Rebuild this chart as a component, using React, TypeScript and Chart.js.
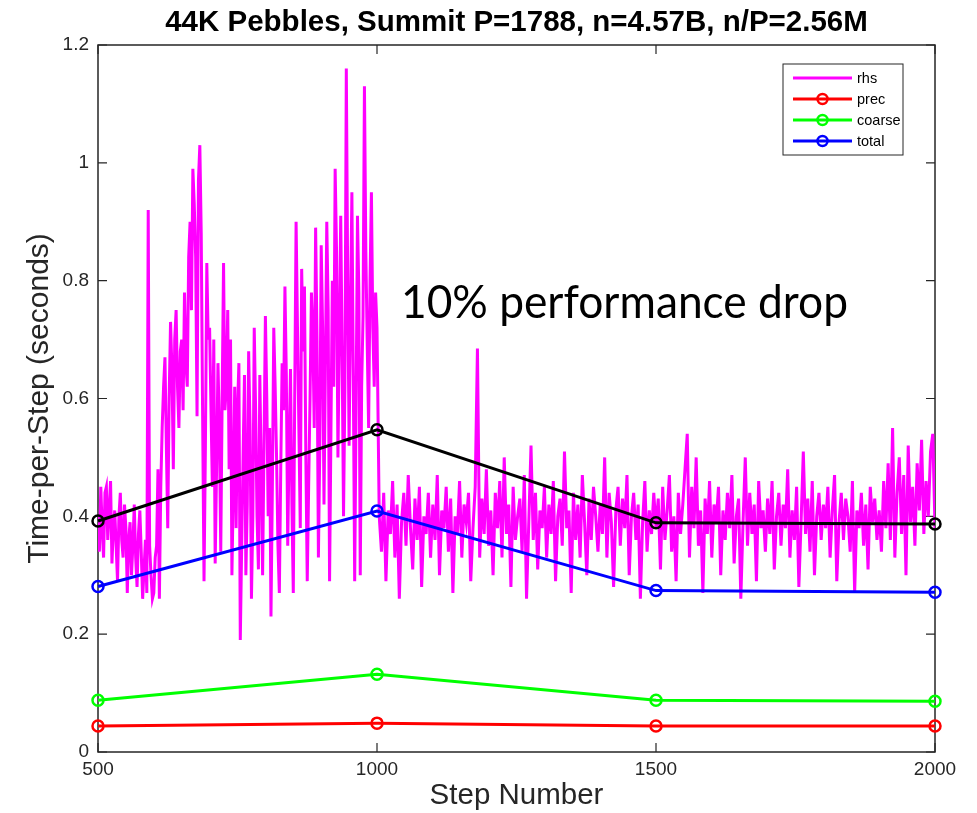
import { useEffect, useRef } from 'react';
import { Chart, registerables } from 'chart.js';

Chart.register(...registerables);

const TITLE = '44K Pebbles, Summit P=1788, n=4.57B, n/P=2.56M';
const X_LABEL = 'Step Number';
const Y_LABEL = 'Time-per-Step (seconds)';
const ANNOTATION = '10% performance drop';
const ANNOTATION_STEP = 1043;
const ANNOTATION_VALUE = 0.737;

const X_TICKS = [500, 1000, 1500, 2000];
const Y_TICKS = [0, 0.2, 0.4, 0.6, 0.8, 1, 1.2];

const SUMMARY_STEPS = [500, 1000, 1500, 2000];
const PREC = [0.044, 0.049, 0.044, 0.044];
const COARSE = [0.088, 0.132, 0.088, 0.086];
const TOTAL = [0.281, 0.409, 0.274, 0.271];
const TOTAL_PLUS_RHS = [0.392, 0.547, 0.389, 0.387];

// rhs, steps 500..997.5 every 2.5 steps
const RHS_EARLY_FIRST = 500;
const RHS_EARLY_STEP = 2.5;
const RHS_EARLY = [
  0.40, 0.34, 0.45, 0.38, 0.33, 0.44, 0.45, 0.36, 0.41, 0.46, 0.32, 0.38, 0.41, 0.35, 0.29, 0.40, 0.44, 0.36, 0.33, 0.42,
  0.38, 0.27, 0.36, 0.39, 0.30, 0.35, 0.42, 0.33, 0.28, 0.37, 0.41, 0.34, 0.26, 0.31, 0.36, 0.27, 0.92, 0.35, 0.30, 0.26,
  0.27, 0.33, 0.35, 0.48, 0.26, 0.45, 0.55, 0.62, 0.67, 0.52, 0.38, 0.60, 0.73, 0.65, 0.48, 0.70, 0.75, 0.62, 0.55, 0.68,
  0.70, 0.58, 0.78, 0.66, 0.62, 0.84, 0.90, 0.75, 0.99, 0.93, 0.84, 0.57, 0.97, 1.03, 0.88, 0.57, 0.29, 0.52, 0.83, 0.70,
  0.72, 0.58, 0.45, 0.70, 0.32, 0.48, 0.66, 0.55, 0.34, 0.60, 0.83, 0.58, 0.62, 0.75, 0.48, 0.70, 0.30, 0.45, 0.62, 0.38,
  0.58, 0.66, 0.19, 0.35, 0.50, 0.64, 0.30, 0.42, 0.68, 0.55, 0.26, 0.40, 0.72, 0.58, 0.40, 0.31, 0.64, 0.48, 0.30, 0.52,
  0.74, 0.60, 0.40, 0.55, 0.23, 0.45, 0.72, 0.62, 0.50, 0.35, 0.27, 0.48, 0.66, 0.58, 0.79, 0.64, 0.35, 0.52, 0.65, 0.42,
  0.27, 0.60, 0.90, 0.72, 0.55, 0.38, 0.82, 0.68, 0.79, 0.50, 0.29, 0.45, 0.60, 0.78, 0.71, 0.55, 0.89, 0.70, 0.33, 0.52,
  0.86, 0.72, 0.42, 0.65, 0.90, 0.75, 0.29, 0.55, 0.80, 0.62, 0.99, 0.85, 0.50, 0.70, 0.91, 0.68, 0.40, 0.62, 1.16, 0.80,
  0.52, 0.75, 0.95, 0.64, 0.29, 0.58, 0.91, 0.78, 0.30, 0.62, 0.74, 1.13, 0.85, 0.69, 0.55, 0.80, 0.95, 0.72, 0.62, 0.78,
];

// rhs, steps 1000..2000 every 4 steps
const RHS_LATE_FIRST = 1000;
const RHS_LATE_STEP = 4;
const RHS_LATE = [
  0.72, 0.40, 0.34, 0.44, 0.29, 0.41, 0.37, 0.46, 0.33, 0.42, 0.26, 0.39, 0.44, 0.35, 0.47, 0.38, 0.31, 0.43, 0.36, 0.45, 0.28, 0.40, 0.37, 0.44, 0.33,
  0.42, 0.36, 0.47, 0.30, 0.41, 0.38, 0.45, 0.34, 0.43, 0.27, 0.40, 0.37, 0.46, 0.33, 0.42, 0.39, 0.44, 0.29, 0.38, 0.45, 0.685, 0.33, 0.43, 0.37, 0.48,
  0.35, 0.41, 0.30, 0.44, 0.38, 0.46, 0.33, 0.50, 0.37, 0.42, 0.28, 0.45, 0.36, 0.40, 0.43, 0.34, 0.47, 0.26, 0.39, 0.52, 0.36, 0.44, 0.31, 0.41, 0.38,
  0.45, 0.33, 0.42, 0.37, 0.46, 0.29, 0.40, 0.43, 0.35, 0.51, 0.38, 0.41, 0.27, 0.44, 0.36, 0.42, 0.33, 0.47, 0.39, 0.30, 0.43, 0.36, 0.45, 0.40, 0.34,
  0.42, 0.37, 0.50, 0.33, 0.44, 0.39, 0.28, 0.41, 0.45, 0.35, 0.43, 0.38, 0.47, 0.30, 0.40, 0.44, 0.36, 0.42, 0.26, 0.39, 0.46, 0.34, 0.41, 0.37, 0.44,
  0.38, 0.43, 0.31, 0.45, 0.36, 0.41, 0.47, 0.34, 0.40, 0.29, 0.44, 0.37, 0.42, 0.48, 0.54, 0.33, 0.45, 0.38, 0.50, 0.35, 0.41, 0.27, 0.43, 0.37, 0.46,
  0.33, 0.42, 0.39, 0.45, 0.30, 0.41, 0.36, 0.44, 0.38, 0.47, 0.32, 0.40, 0.43, 0.26, 0.39, 0.50, 0.35, 0.44, 0.37, 0.42, 0.29, 0.46, 0.38, 0.41, 0.34,
  0.43, 0.37, 0.46, 0.31, 0.40, 0.44, 0.35, 0.42, 0.38, 0.48, 0.33, 0.41, 0.36, 0.45, 0.28, 0.39, 0.51, 0.37, 0.43, 0.34, 0.46, 0.30, 0.40, 0.44, 0.36,
  0.42, 0.38, 0.45, 0.33, 0.41, 0.47, 0.29, 0.39, 0.44, 0.36, 0.43, 0.40, 0.34, 0.46, 0.27, 0.41, 0.38, 0.44, 0.35, 0.42, 0.31, 0.45, 0.39, 0.43, 0.36,
  0.41, 0.34, 0.46, 0.38, 0.49, 0.36, 0.55, 0.33, 0.44, 0.50, 0.37, 0.47, 0.30, 0.52, 0.39, 0.45, 0.35, 0.49, 0.41, 0.53, 0.37, 0.46, 0.40, 0.51, 0.54,
  0.38,
];

const FONT = "'Liberation Sans', Arial, Helvetica, sans-serif";
const AXIS_COLOR = '#262626';

const summaryPoints = (vals: number[]) => SUMMARY_STEPS.map((s, i) => ({ x: s, y: vals[i] }));
const rhsPoints = [
  ...RHS_EARLY.map((v, i) => ({ x: RHS_EARLY_FIRST + i * RHS_EARLY_STEP, y: v })),
  ...RHS_LATE.map((v, i) => ({ x: RHS_LATE_FIRST + i * RHS_LATE_STEP, y: v })),
];

const framePlugin = {
  id: 'frame',
  beforeDatasetsDraw(chart: any) {
    const { ctx, chartArea: ca, scales } = chart;
    const xs = scales.x;
    const ys = scales.y;
    ctx.save();
    ctx.strokeStyle = AXIS_COLOR;
    ctx.lineWidth = 1.5;
    ctx.strokeRect(ca.left, ca.top, ca.right - ca.left, ca.bottom - ca.top);
    ctx.lineWidth = 1.2;
    ctx.beginPath();
    xs.ticks.forEach((t: any) => {
      const p = xs.getPixelForValue(t.value);
      ctx.moveTo(p, ca.bottom);
      ctx.lineTo(p, ca.bottom - 9);
      ctx.moveTo(p, ca.top);
      ctx.lineTo(p, ca.top + 9);
    });
    ys.ticks.forEach((t: any) => {
      const p = ys.getPixelForValue(t.value);
      ctx.moveTo(ca.left, p);
      ctx.lineTo(ca.left + 9, p);
      ctx.moveTo(ca.right, p);
      ctx.lineTo(ca.right - 9, p);
    });
    ctx.stroke();
    ctx.restore();
  },
  afterDraw(chart: any) {
    const { ctx, chartArea: ca, scales } = chart;
    const xs = scales.x;
    const ys = scales.y;
    ctx.save();
    // title
    ctx.fillStyle = '#000';
    ctx.font = `bold 29.5px ${FONT}`;
    ctx.textAlign = 'center';
    ctx.textBaseline = 'alphabetic';
    ctx.fillText(TITLE, (ca.left + ca.right) / 2, 31);

    // annotation
    ctx.font = `46px Lato, 'Open Sans', sans-serif`;
    ctx.textAlign = 'left';
    const ax = xs.getPixelForValue(ANNOTATION_STEP);
    const ay = ys.getPixelForValue(ANNOTATION_VALUE);
    const natural = ctx.measureText(ANNOTATION).width;
    const sx = 447 / natural;
    ctx.save();
    ctx.translate(ax, ay);
    ctx.scale(sx, 1);
    ctx.fillText(ANNOTATION, 0, 0);
    ctx.restore();

    // legend
    const items = chart.data.datasets.filter((d: any) => d.inLegend);
    const bx = ca.right - 152;
    const by = ca.top + 19;
    const bw = 120;
    const bh = 91;
    ctx.fillStyle = '#fff';
    ctx.fillRect(bx, by, bw, bh);
    ctx.strokeStyle = AXIS_COLOR;
    ctx.lineWidth = 1;
    ctx.strokeRect(bx, by, bw, bh);
    ctx.font = `14.5px ${FONT}`;
    ctx.textBaseline = 'middle';
    items.forEach((d: any, i: number) => {
      const y = by + 14 + i * 21;
      const x0 = bx + 10;
      const x1 = x0 + 59;
      ctx.strokeStyle = d.borderColor;
      ctx.lineWidth = 3;
      ctx.beginPath();
      ctx.moveTo(x0, y);
      ctx.lineTo(x1, y);
      ctx.stroke();
      if (d.pointRadius > 0) {
        ctx.lineWidth = 2.5;
        ctx.beginPath();
        ctx.arc((x0 + x1) / 2, y, 5, 0, Math.PI * 2);
        ctx.stroke();
      }
      ctx.fillStyle = '#000';
      ctx.fillText(d.label, x1 + 5, y + 1);
    });
    ctx.restore();
  },
};

function markerSeries(label: string, vals: number[], color: string, inLegend: boolean, order: number) {
  return {
    label,
    data: summaryPoints(vals),
    borderColor: color,
    backgroundColor: color,
    borderWidth: 3,
    pointRadius: 5.5,
    pointBorderWidth: 2.5,
    pointBackgroundColor: 'rgba(0,0,0,0)',
    pointBorderColor: color,
    tension: 0,
    clip: false,
    inLegend,
    order,
  };
}

export default function App() {
  const ref = useRef<HTMLCanvasElement | null>(null);
  useEffect(() => {
    if (!ref.current) return;
    const chart = new Chart(ref.current, {
      type: 'line',
      data: {
        datasets: [
          {
            label: 'rhs',
            data: rhsPoints,
            borderColor: '#ff00ff',
            backgroundColor: '#ff00ff',
            borderWidth: 3,
            pointRadius: 0,
            tension: 0,
            inLegend: true,
            order: 10,
          } as any,
          markerSeries('prec', PREC, '#ff0000', true, 4),
          markerSeries('coarse', COARSE, '#00ff00', true, 3),
          markerSeries('total', TOTAL, '#0000ff', true, 2),
          markerSeries('total+rhs', TOTAL_PLUS_RHS, '#000000', false, 1),
        ],
      },
      options: {
        responsive: false,
        animation: false,
        layout: { padding: { top: 45, right: 42, bottom: 0, left: 0 } },
        plugins: {
          legend: { display: false },
          title: { display: false },
          tooltip: { enabled: false },
        },
        scales: {
          x: {
            type: 'linear',
            min: 500,
            max: 2000,
            grid: { display: false, drawTicks: false },
            border: { display: false },
            afterBuildTicks: (s: any) => {
              s.ticks = X_TICKS.map((v) => ({ value: v }));
            },
            afterFit: (s: any) => {
              s.height = 61;
            },
            ticks: {
              padding: 6,
              autoSkip: false,
              maxRotation: 0,
              color: AXIS_COLOR,
              font: { family: FONT, size: 19 },
              callback: (v: any) => String(v),
            },
            title: {
              display: true,
              text: X_LABEL,
              color: AXIS_COLOR,
              font: { family: FONT, size: 29.5, lineHeight: 1 },
              padding: { top: 0, bottom: 2 },
            },
          },
          y: {
            type: 'linear',
            min: 0,
            max: 1.2,
            grid: { display: false, drawTicks: false },
            border: { display: false },
            afterBuildTicks: (s: any) => {
              s.ticks = Y_TICKS.map((v) => ({ value: v }));
            },
            afterFit: (s: any) => {
              s.width = 98;
            },
            ticks: {
              padding: 9,
              color: AXIS_COLOR,
              font: { family: FONT, size: 19 },
              callback: (v: any) => String(v),
            },
            title: {
              display: true,
              text: Y_LABEL,
              color: AXIS_COLOR,
              font: { family: FONT, size: 30, lineHeight: 1 },
              padding: { top: 25, bottom: 0 },
            },
          },
        },
      },
      plugins: [framePlugin],
    } as any);
    return () => chart.destroy();
  }, []);
  return (
    <div style={{ position: 'absolute', left: 0, top: 0, width: 977, height: 813, background: '#fff' }}>
      <canvas ref={ref} width={977} height={813} style={{ width: 977, height: 813, display: 'block' }} />
    </div>
  );
}
